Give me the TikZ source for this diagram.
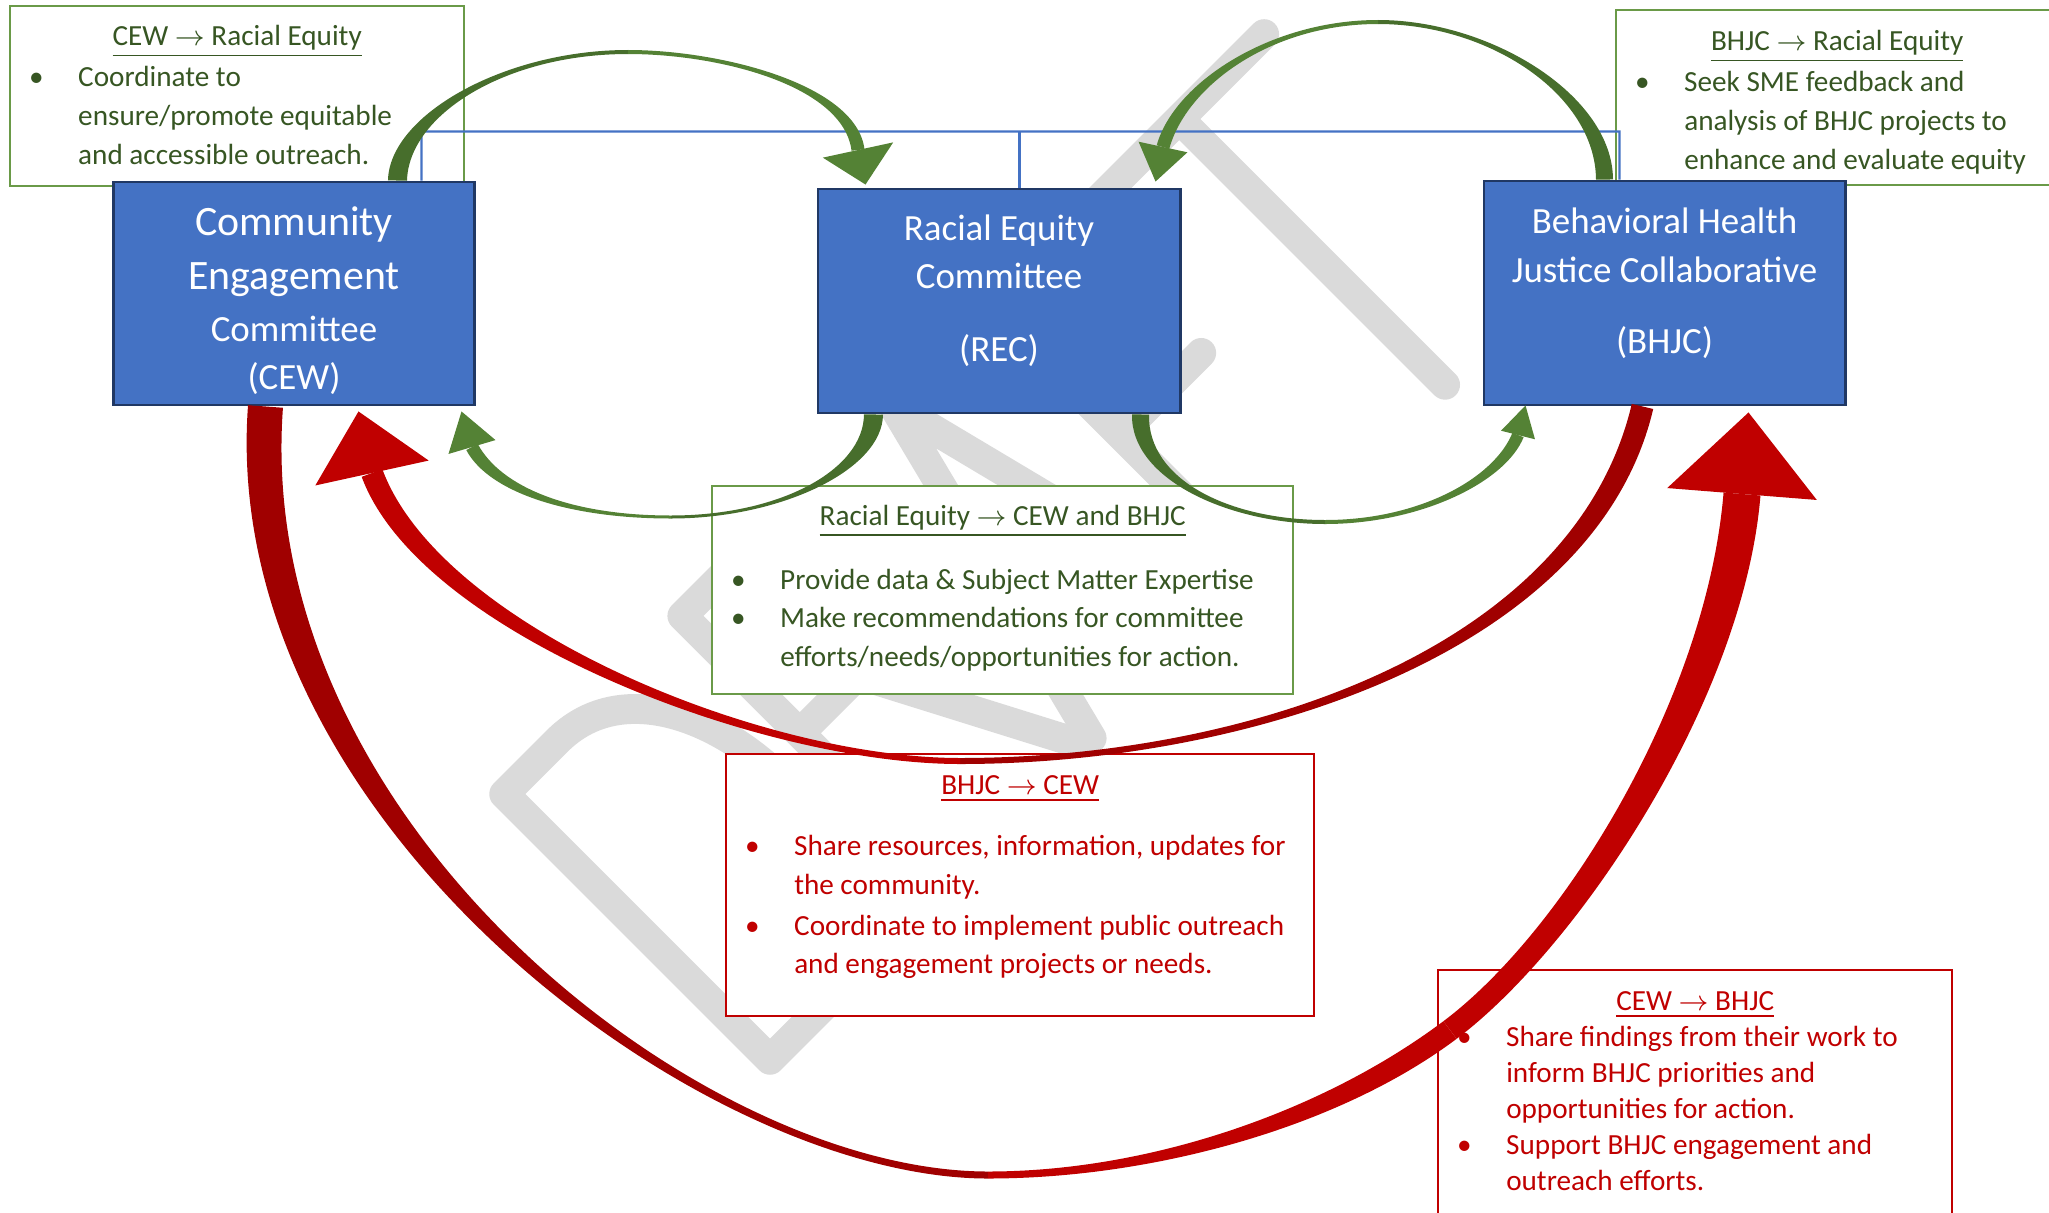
\documentclass[tikz,border=0pt]{standalone}
\usepackage{fontspec}
\setmainfont{Carlito}
\usetikzlibrary{calc}

\definecolor{boxblue}{HTML}{4472C4}
\definecolor{boxedge}{HTML}{203864}
\definecolor{leaf}{HTML}{548235}
\definecolor{leafdark}{HTML}{476E2C}
\definecolor{leafline}{HTML}{6A9A48}
\definecolor{leaftext}{HTML}{375623}
\definecolor{ruby}{HTML}{C00000}
\definecolor{rubydark}{HTML}{A00000}
\definecolor{wmgray}{HTML}{DADADA}

% bullet paragraph, lines broken by hand with \newline
\newcommand{\bul}[1]{\par\rightskip=-30pt plus 1fil\relax\noindent\hangindent=13.7pt\hangafter=1
  \hbox to 13.7pt{\hspace{-0.3pt}\textbullet\hfil}#1\par}
% tapering band along one curve: colour, p0, p1, p2, p3, half width at p0, half width at p3
\newcommand{\arcband}[7]{%
  \fill[#1] ($(#2)!#6!90:(#3)$) .. controls ($(#3)!#6!-90:(#2)$) and ($(#4)!#7!90:(#5)$) .. ($(#5)!#7!-90:(#4)$)
    -- ($(#5)!#7!90:(#4)$) .. controls ($(#4)!#7!-90:(#5)$) and ($(#3)!#6!90:(#2)$) .. ($(#2)!#6!-90:(#3)$) -- cycle;}
% arrow head: colour, base centre, tip, half base
\newcommand{\headtri}[4]{\fill[#1] ($(#2)!#4!90:(#3)$) -- (#3) -- ($(#2)!#4!-90:(#3)$) -- cycle;}

\tikzset{
  committee/.style={draw=boxedge, line width=0.8pt, fill=boxblue, text=white,
    minimum width=3.6cm, minimum height=2.23cm, align=center, inner sep=0pt,
    font=\fontsize{10.5}{13.6}\selectfont},
  notebox/.style={draw=#1, line width=0.6pt, fill=white, anchor=north west, align=flush left,
    inner xsep=0.2cm, inner ysep=0pt, font=\fontsize{8.3}{11}\selectfont},
  bus/.style={draw=boxblue, line width=0.6pt}
}

\begin{document}
\begin{tikzpicture}[x=0.01cm, y=-0.01cm]
\useasboundingbox (0,0) rectangle (2049,1212);

% watermark
\begin{scope}[shift={(770,1081)}, x={(0.00707cm,0.00707cm)}, y={(-0.00707cm,0.00707cm)},
    color=wmgray, line width=8.5pt, line join=round, line cap=round]
  \draw (15,15) -- (15,391) -- (90,391) .. controls (265,391) and (265,15) .. (90,15) -- cycle;
  \draw (267,15) -- (267,391) -- (350,391) .. controls (460,391) and (460,225) .. (350,225) -- (267,225)
        (350,225) -- (460,15);
  \draw (470,15) -- (565,391) -- (660,15) (500,135) -- (630,135);
  \draw (840,391) -- (705,391) -- (705,15) (705,210) -- (820,210);
  \draw (850,391) -- (1090,391) (970,391) -- (970,15);
\end{scope}

% notes
\path (9,5) node[notebox=leafline, text=leaftext, minimum width=4.54cm, minimum height=1.8cm, text width=4.14cm] (note_cew)
  {{\centering\noindent\underline{CEW $\rightarrow$ Racial Equity}\par}\vspace{0.7pt}
   \bul{Coordinate to\newline ensure/promote equitable\newline and accessible outreach.}\vspace*{0.7pt}};
\path (1615,9) node[notebox=leafline, text=leaftext, minimum width=4.42cm, minimum height=1.75cm, text width=4.02cm] (note_bhjc)
  {{\centering\noindent\rule{0pt}{8.4pt}\underline{BHJC $\rightarrow$ Racial Equity}\par}\vspace{0.7pt}
   \bul{Seek SME feedback and\newline analysis of BHJC projects to\newline enhance and evaluate equity}};
\path (711,485) node[notebox=leafline, text=leaftext, minimum width=5.81cm, minimum height=2.08cm, text width=5.41cm] (note_rec)
  {{\centering\noindent\underline{Racial Equity $\rightarrow$ CEW and BHJC}\par}\vspace{7.1pt}
   \bul{Provide data \& Subject Matter Expertise}
   \bul{Make recommendations for committee\newline efforts/needs/opportunities for action.}\vspace*{1.1pt}};
\path (725,753) node[notebox=ruby, text=ruby, minimum width=5.88cm, minimum height=2.62cm, text width=5.48cm] (note_share)
  {{\centering\noindent\underline{BHJC $\rightarrow$ CEW}\par}\vspace{6.3pt}
   \bul{Share resources, information, updates for\newline the community.}\vspace{0.6pt}
   \bul{Coordinate to implement public outreach\newline and engagement projects or needs.}\vspace*{4.4pt}};
\path (1437,969) node[notebox=ruby, text=ruby, minimum width=5.14cm, minimum height=2.47cm, text width=4.74cm,
    font=\fontsize{8.3}{10.2}\selectfont] (note_find)
  {{\centering\noindent\underline{CEW $\rightarrow$ BHJC}\par}
   \bul{Share findings from their work to\newline inform BHJC priorities and\newline opportunities for action.}
   \bul{Support BHJC engagement and\newline outreach efforts.}\vspace*{1.5pt}};

% committees
\path (294,293.5) node[committee] (box_cew)
  {{\fontsize{11.9}{14}\selectfont\rule{0pt}{12.2pt}Community}\\[2pt]{\fontsize{11.9}{14}\selectfont Engagement}\\[1.2pt]Committee\\(CEW)};
\path (999,301) node[committee, minimum width=3.62cm, minimum height=2.24cm] (box_rec)
  {Racial Equity\\Committee\\[7pt](REC)\rule[-7.3pt]{0pt}{7.3pt}};
\path (1664.5,293) node[committee, minimum width=3.61cm, minimum height=2.24cm, font=\fontsize{10.5}{14.1}\selectfont] (box_bhjc)
  {Behavioral Health\\Justice Collaborative\\[6pt](BHJC)\rule[-7pt]{0pt}{7pt}};

% org line
\coordinate (bus_l) at ($(box_cew.north west)+(309,-49)$);
\coordinate (bus_r) at ($(box_bhjc.north west)+(137,-48)$);
\draw[bus] ($(box_cew.north west)+(309,0)$) -- (bus_l) -- (bus_r) -- ($(box_bhjc.north west)+(137,0)$);
\draw[bus] ($(box_rec.north west)+(203,0)$) -- ($(box_rec.north west)+(203,-56)$);

% green arrows
\coordinate (g1_s) at ($(box_cew.north west)+(285,0)$);
\coordinate (g1_m) at (628,52);
\coordinate (g1_h) at (858,150);
\coordinate (g1_t) at ($(box_rec.north west)+(49,-3)$);
\arcband{leafdark}{g1_s}{399,115}{505,52}{g1_m}{0.095cm}{0.02cm}
\arcband{leaf}{g1_m}{720,52}{850,85}{g1_h}{0.02cm}{0.065cm}
\headtri{leaf}{g1_h}{g1_t}{0.36cm}

\coordinate (g2_s) at ($(box_bhjc.north west)+(122,0)$);
\coordinate (g2_m) at (1378,22);
\coordinate (g2_h) at (1163,147);
\coordinate (g2_t) at ($(box_rec.north east)+(-26,-6)$);
\arcband{leafdark}{g2_s}{1604,95}{1490,22}{g2_m}{0.085cm}{0.02cm}
\arcband{leaf}{g2_m}{1270,22}{1180,85}{g2_h}{0.02cm}{0.065cm}
\headtri{leaf}{g2_h}{g2_t}{0.25cm}

\coordinate (g3_s) at ($(box_rec.south west)+(57,0)$);
\coordinate (g3_m) at (671,517);
\coordinate (g3_h) at (472,447);
\coordinate (g3_t) at ($(box_cew.south east)+(-14,5)$);
\arcband{leafdark}{g3_s}{873,470}{780,517}{g3_m}{0.095cm}{0.015cm}
\arcband{leaf}{g3_m}{570,517}{495,490}{g3_h}{0.015cm}{0.065cm}
\headtri{leaf}{g3_h}{g3_t}{0.245cm}

\coordinate (g4_s) at ($(box_rec.south east)+(-41,0)$);
\coordinate (g4_m) at (1325,522);
\coordinate (g4_h) at (1518,435);
\coordinate (g4_t) at ($(box_bhjc.south west)+(43,-1)$);
\arcband{leafdark}{g4_s}{1139,480}{1230,522}{g4_m}{0.085cm}{0.02cm}
\arcband{leaf}{g4_m}{1420,522}{1500,480}{g4_h}{0.02cm}{0.06cm}
\headtri{leaf}{g4_h}{g4_t}{0.175cm}

% red arrows
\coordinate (r1_s) at ($(box_bhjc.south west)+(160,0)$);
\coordinate (r1_m) at (960,761);
\coordinate (r1_h) at (372,473);
\coordinate (r1_t) at ($(box_cew.south west)+(246,5)$);
\arcband{rubydark}{r1_s}{1585,650}{1250,761}{r1_m}{0.11cm}{0.03cm}
\arcband{ruby}{r1_m}{760,761}{430,630}{r1_h}{0.03cm}{0.11cm}
\headtri{ruby}{r1_h}{r1_t}{0.58cm}

\coordinate (r2_s) at ($(box_cew.south west)+(153,0)$);
\coordinate (r2_m) at (988,1175);
\coordinate (r2_k) at (1450,1030);
\coordinate (r2_h) at (1742,494);
\coordinate (r2_t) at ($(box_bhjc.south west)+(266,6)$);
\arcband{rubydark}{r2_s}{235,820}{700,1175}{r2_m}{0.175cm}{0.035cm}
\arcband{ruby}{r2_m}{1150,1175}{1330,1120}{r2_k}{0.035cm}{0.11cm}
\arcband{ruby}{r2_k}{1570,940}{1725,700}{r2_h}{0.11cm}{0.185cm}
\headtri{ruby}{r2_h}{r2_t}{0.75cm}

\end{tikzpicture}
\end{document}
